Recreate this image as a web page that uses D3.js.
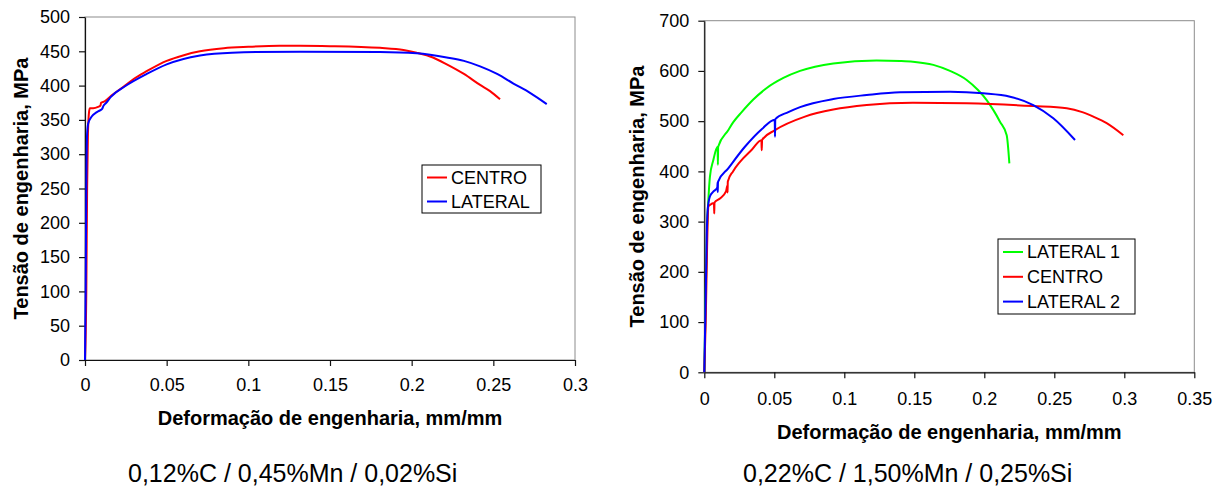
<!DOCTYPE html>
<html>
<head>
<meta charset="utf-8">
<script src="https://cdn.jsdelivr.net/npm/d3@7"></script>
<style>
  body { margin: 0; background: #fff; }
  svg { display: block; }
  text { font-family: "Liberation Sans", Arial, sans-serif; fill: #000; }
</style>
</head>
<body>
<svg width="1220" height="486"></svg>
<script>
// left panel: 0,12%C / 0,45%Mn / 0,02%Si  (strain, MPa)
var leftCentro = [[0,0],[0.0008,100],[0.0013,250],[0.0018,330],[0.0025,362],[0.003,367],[0.005,367],[0.008,369],
  [0.0095,371],[0.0098,375],[0.012,377],[0.016,385],[0.0245,400],[0.03,410],[0.0378,421],[0.05,436],[0.06,444],
  [0.0704,450],[0.085,454.5],[0.1,456.5],[0.119,458],[0.1317,458],[0.15,457.5],[0.1806,455],[0.195,452],
  [0.203,448],[0.213,441],[0.2215,431],[0.232,417],[0.2419,401],[0.248,392],[0.2541,380]];
var leftLateral = [[0,0],[0.0004,100],[0.0008,250],[0.0013,330],[0.002,345],[0.0041,355],[0.007,361],[0.0092,364],
  [0.0105,366],[0.0112,370],[0.013,375],[0.016,384],[0.0245,399],[0.0378,417],[0.05,431],[0.0704,444],
  [0.09,448],[0.1317,449.5],[0.1806,449],[0.203,447],[0.2215,441],[0.232,436],[0.2419,428],[0.2523,417],
  [0.2623,403],[0.2727,389],[0.2827,373]];

// right panel: 0,22%C / 1,50%Mn / 0,25%Si
var rightLateral1 = [[0,0],[0.001,150],[0.002,290],[0.0029,343],[0.004,389],[0.0064,422],[0.0095,449],[0.0097,413],
  [0.0099,449],[0.0171,482],[0.0207,498],[0.0267,518],[0.035,543],[0.0446,566],[0.0565,586],[0.0684,600],
  [0.0921,615],[0.123,621],[0.1398,620],[0.149,618.5],[0.1636,612],[0.1755,600],[0.1874,582],[0.1955,562],
  [0.2017,542],[0.2065,522],[0.2112,499],[0.216,472],[0.2179,416]];
var rightCentro = [[0,0],[0.001,100],[0.002,250],[0.0029,330],[0.004,333],[0.0069,337],[0.0071,316],[0.0073,338],
  [0.0112,346],[0.0155,360],[0.0165,372],[0.0166,358],[0.0168,380],[0.0205,400],[0.0255,419],[0.0339,443],
  [0.0408,462],[0.041,442],[0.0413,463],[0.0505,482],[0.0719,509],[0.0921,523],[0.116,532],[0.149,536.5],
  [0.1874,535.5],[0.235,530],[0.2589,525.6],[0.27,518],[0.2779,509],[0.2874,496],[0.2993,472]];
var rightLateral2 = [[0,0],[0.001,150],[0.0018,280],[0.0024,323],[0.004,350],[0.0064,359.5],[0.0093,368],
  [0.0095,378],[0.0096,359],[0.0098,379],[0.0171,406],[0.029,449],[0.041,484],[0.0503,503],[0.0505,469],
  [0.0507,504],[0.06,518],[0.0684,528],[0.0921,544],[0.116,552],[0.1398,557.4],[0.1755,558.6],[0.1993,555.5],
  [0.2184,548.7],[0.235,532],[0.2493,505.7],[0.2648,462.5]];

var leftXTicks = [0, 0.05, 0.1, 0.15, 0.2, 0.25, 0.3];
var leftYTicks = [0, 50, 100, 150, 200, 250, 300, 350, 400, 450, 500];
var rightXTicks = [0, 0.05, 0.1, 0.15, 0.2, 0.25, 0.3, 0.35];
var rightYTicks = [0, 100, 200, 300, 400, 500, 600, 700];

var yTitle = "Tensão de engenharia, MPa";
var xTitle = "Deformação de engenharia, mm/mm";

var svg = d3.select("svg");

function drawPanel(p) {
  var x = d3.scaleLinear().domain([p.xTicks[0], p.xTicks[p.xTicks.length - 1]]).range(p.xRange);
  var y = d3.scaleLinear().domain([p.yTicks[0], p.yTicks[p.yTicks.length - 1]]).range(p.yRange);
  var g = svg.append("g");

  // plot area border
  g.append("rect")
    .attr("x", p.xRange[0]).attr("y", p.yRange[1])
    .attr("width", p.xRange[1] - p.xRange[0])
    .attr("height", p.yRange[0] - p.yRange[1])
    .attr("fill", "none").attr("stroke", "#8c8c8c");

  var xa = g.append("g")
    .attr("transform", "translate(0," + p.yRange[0] + ")")
    .call(d3.axisBottom(x).tickValues(p.xTicks).tickSize(6).tickSizeOuter(0)
      .tickPadding(p.xPad).tickFormat(function(d) { return String(d); }));
  var ya = g.append("g")
    .attr("transform", "translate(" + p.xRange[0] + ",0)")
    .call(d3.axisLeft(y).tickValues(p.yTicks).tickSize(6).tickSizeOuter(0)
      .tickPadding(9).tickFormat(function(d) { return String(d); }));
  [xa, ya].forEach(function(a) {
    a.selectAll("path, line").attr("stroke", "#111").attr("stroke-width", 1.2);
    a.selectAll("text").style("font-size", "18px").attr("fill", "#000")
      .style("font-family", "'Liberation Sans', Arial, sans-serif");
  });

  var line = d3.line()
    .curve(d3.curveMonotoneX)
    .x(function(d) { return x(d[0]); })
    .y(function(d) { return y(d[1]); });

  g.selectAll(".serie")
    .data(p.series)
    .enter().append("path")
      .attr("class", "serie")
      .attr("d", function(d) { return line(d.values); })
      .attr("fill", "none")
      .attr("stroke", function(d) { return d.color; })
      .attr("stroke-width", 2)
      .attr("stroke-linejoin", "round");

  // legend
  var lg = g.append("g").attr("transform", "translate(" + p.legend.x + "," + p.legend.y + ")");
  lg.append("rect")
    .attr("width", p.legend.w).attr("height", p.legend.h)
    .attr("fill", "#fff").attr("stroke", "#000").attr("stroke-width", 1);
  var items = lg.selectAll(".legend")
    .data(p.legendOrder)
    .enter().append("g")
      .attr("class", "legend")
      .attr("transform", function(d, i) { return "translate(0," + (p.legend.row0 + i * p.legend.step) + ")"; });
  items.append("line")
    .attr("x1", 5).attr("x2", 25)
    .attr("stroke", function(d) { return d.color; }).attr("stroke-width", 2);
  items.append("text")
    .attr("x", 29).attr("dy", "0.35em")
    .style("font-size", "18px")
    .text(function(d) { return d.name; });

  // titles
  g.append("text")
    .attr("transform", "translate(" + p.yTitleX + "," + (p.yRange[0] + p.yRange[1]) / 2 + ") rotate(-90)")
    .attr("text-anchor", "middle")
    .style("font-size", "20px").style("font-weight", "bold")
    .text(yTitle);
  g.append("text")
    .attr("x", (p.xRange[0] + p.xRange[1]) / 2).attr("y", p.xTitleY)
    .attr("text-anchor", "middle")
    .style("font-size", "20px").style("font-weight", "bold")
    .text(xTitle);
  g.append("text")
    .attr("x", p.captionX).attr("y", 481.5)
    .style("font-size", "25px")
    .text(p.caption);
}

var leftSeries = [
  {name: "CENTRO", color: "#ff0000", values: leftCentro},
  {name: "LATERAL", color: "#0000ff", values: leftLateral}
];
drawPanel({
  xTicks: leftXTicks, yTicks: leftYTicks,
  xRange: [85, 575], yRange: [360, 17], xPad: 12,
  series: leftSeries, legendOrder: leftSeries,
  legend: {x: 422, y: 165, w: 119, h: 48, row0: 12.5, step: 24},
  yTitleX: 27.5, xTitleY: 425,
  captionX: 128, caption: "0,12%C / 0,45%Mn / 0,02%Si"
});

var rightSeries = [
  {name: "LATERAL 1", color: "#00ff00", values: rightLateral1},
  {name: "CENTRO", color: "#ff0000", values: rightCentro},
  {name: "LATERAL 2", color: "#0000ff", values: rightLateral2}
];
drawPanel({
  xTicks: rightXTicks, yTicks: rightYTicks,
  xRange: [704.3, 1194.3], yRange: [372.3, 20.7], xPad: 14,
  series: rightSeries, legendOrder: rightSeries,
  legend: {x: 998, y: 239, w: 137, h: 75, row0: 13, step: 24.8},
  yTitleX: 644.3, xTitleY: 439,
  captionX: 743, caption: "0,22%C / 1,50%Mn / 0,25%Si"
});
</script>
</body>
</html>
